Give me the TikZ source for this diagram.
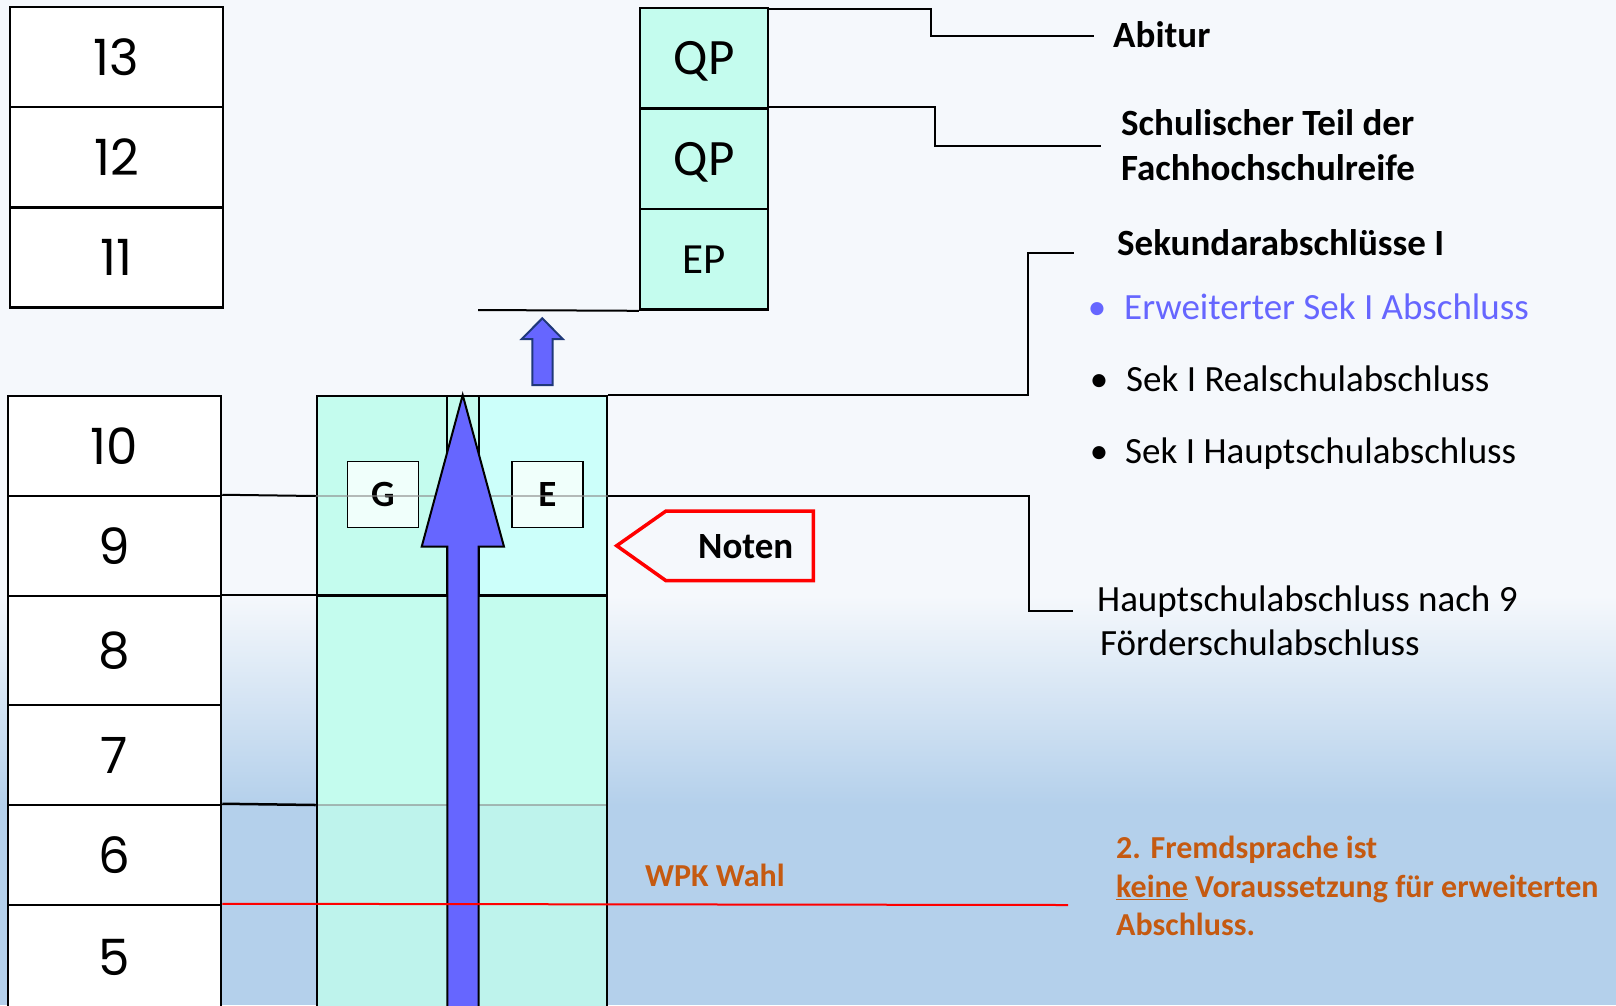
\documentclass[tikz,border=0pt]{standalone}
\usepackage{fontspec}
\setmainfont{Carlito}
\newfontfamily\gradefont{Poppins}
\usetikzlibrary{positioning}

\definecolor{bgtop}{RGB}{245,248,252}
\definecolor{bgbot}{RGB}{180,208,235}
\definecolor{mint}{RGB}{196,252,238}
\definecolor{cyanish}{RGB}{204,255,250}
\definecolor{lowmint}{RGB}{190,243,236}
\definecolor{pale}{RGB}{240,255,251}
\definecolor{arrowblue}{RGB}{102,102,255}
\definecolor{navy}{RGB}{31,56,122}
\definecolor{rust}{RGB}{197,90,17}
\newcommand\pxfont[1]{\fontsize{#1}{#1}\selectfont}

\begin{document}
\begin{tikzpicture}[x=1pt, y=-1pt,
    grade/.style={draw, line width=2.5, fill=white, minimum width=213, inner sep=0, font=\gradefont\pxfont{50}},
    qpbox/.style={draw, line width=2.5, fill=mint, minimum width=128, minimum height=100.5, inner sep=0, text depth=0},
    colbox/.style={draw, line width=2.5, minimum height=200, inner sep=0},
    gebox/.style={draw, line width=1.5, fill=pale, minimum width=71, minimum height=66, inner sep=0, text depth=0, font=\bfseries\pxfont{37}},
    conn/.style={line width=2},
    lbl/.style={anchor=base west, inner sep=0, font=\pxfont{37}},
    boldlbl/.style={lbl, font=\bfseries\pxfont{37}},
    orangelbl/.style={lbl, font=\bfseries\pxfont{32}, text=rust},
    dot/.style={anchor=base, inner sep=0, font=\pxfont{37}},
    ]
\useasboundingbox (0,0) rectangle (1616,1005);

% background
\fill[bgtop] (0,0) rectangle (1616,596);
\shade[top color=bgtop, bottom color=bgbot] (0,596) rectangle (1616,805);
\fill[bgbot] (0,805) rectangle (1616,1005);

% grades
\foreach \g/\y in {13/57,12/157,11/257.5}
    \node[grade, minimum height=100] (g\g) at (116.5,\y) {\g};
\foreach \g/\y/\h in {10/446/100,9/546/100,8/650.5/109,7/755/100,6/855/100,5/957/104}
    \node[grade, minimum height=\h] (g\g) at (114.5,\y) {\g};

% Oberstufe
\node[qpbox, font=\pxfont{51}] (qpA) at (704,58.3) {QP};
\node[qpbox, font=\pxfont{51}] (qpB) at (704,158.8) {QP};
\node[qpbox, font=\pxfont{43}] (ep) at (704,259.3) {EP};

% Sek I column
\node[colbox, fill=mint, minimum width=130] (gcol) at (382,496) {};
\node[colbox, fill=mint, minimum width=32] (ncol) at (463,496) {};
\node[colbox, fill=cyanish, minimum width=128] (ecol) at (543,496) {};
\node[colbox, fill=mint, minimum width=290, minimum height=413] (low) at (462,802.5) {};
\fill[lowmint] (318.25,805) rectangle (605.75,1008);

\node[gebox] (gkurs) at (383,494.5) {G};
\node[gebox] (ekurs) at (547.5,494.5) {E};

\draw[black!45, opacity=.6, line width=2] (gcol.west) -- (ecol.east);
\draw[black!45, opacity=.6, line width=2] (318,805) -- (606,805);

% connectors
\draw[conn] (g9.north east) -- (gcol.west);
\draw[line width=2.5] (g8.north east) -- (low.north east);
\draw[line width=2.5] (g6.north east) -- (low.west |- 0,805);

\coordinate (abi) at (1094,36);
\coordinate (fhr) at (1101,146);
\coordinate (sek) at (1074,253);
\coordinate (hsa) at (1073,611);
\coordinate (epl) at (478,310);
\coordinate (wpk) at (1068,905);

\draw[conn] ([yshift=-2]qpA.north east) -- ++(162,0) |- (abi);
\draw[conn] (qpB.north east) -- ++(166,0) |- (fhr);
\draw[conn] (ep.south west) -- (epl);
\draw[conn] (ecol.north east) -- ++(420,0) |- (sek);
\draw[conn] (ecol.east) -- ++(421,0) |- (hsa);

% arrows
\filldraw[fill=arrowblue, line width=2] (462.7,395) -- (504,546.7) -- (478.7,546.7) -- (478.7,1010)
    -- (447.3,1010) -- (447.3,546.7) -- (421.7,546.7) -- cycle;
\filldraw[fill=arrowblue, draw=navy, line width=2] (542.3,318.3) -- (562.7,339) -- (552.7,339) -- (552.7,385)
    -- (532.3,385) -- (532.3,339) -- (521.7,339) -- cycle;

\draw[red, line width=2] (g5.north east) -- (wpk);

% Noten
\filldraw[draw=red, fill=bgtop, line width=3.5] (616.7,545.7) -- (666,511) -- (813.3,511) -- (813.3,580.7)
    -- (666,580.7) -- cycle;
\node[anchor=base, inner sep=0, font=\bfseries\pxfont{37}] (noten) at (745.7,558.3) {Noten};

% labels
\node[boldlbl] (abitur) at (1113,47) {Abitur};
\node[boldlbl] (schulA) at (1121,135) {Schulischer Teil der};
\node[boldlbl] (schulB) at (1121,180) {Fachhochschulreife};
\node[boldlbl] (sekI) at (1117,255) {Sekundarabschlüsse I};

\node[dot, text=arrowblue] (bul1) at (1097,319) {\textbullet};
\node[lbl, text=arrowblue] (erw) at (1124,319) {Erweiterter Sek I Abschluss};
\node[dot] (bul2) at (1099,391) {\textbullet};
\node[lbl] (real) at (1126,391) {Sek I Realschulabschluss};
\node[dot] (bul3) at (1099,463) {\textbullet};
\node[lbl] (haupt) at (1125,463) {Sek I Hauptschulabschluss};

\node[lbl] (hsaA) at (1097,611) {Hauptschulabschluss nach 9};
\node[lbl] (hsaB) at (1100,655) {Förderschulabschluss};

\node[orangelbl] (wpklbl) at (645,886) {WPK Wahl};
\node[orangelbl] (fsA) at (1116,858) {2. Fremdsprache ist};
\node[orangelbl] (fsB) at (1116,897.5) {\underline{keine} Voraussetzung für erweiterten};
\node[orangelbl] (fsC) at (1116,935) {Abschluss.};
\end{tikzpicture}
\end{document}
